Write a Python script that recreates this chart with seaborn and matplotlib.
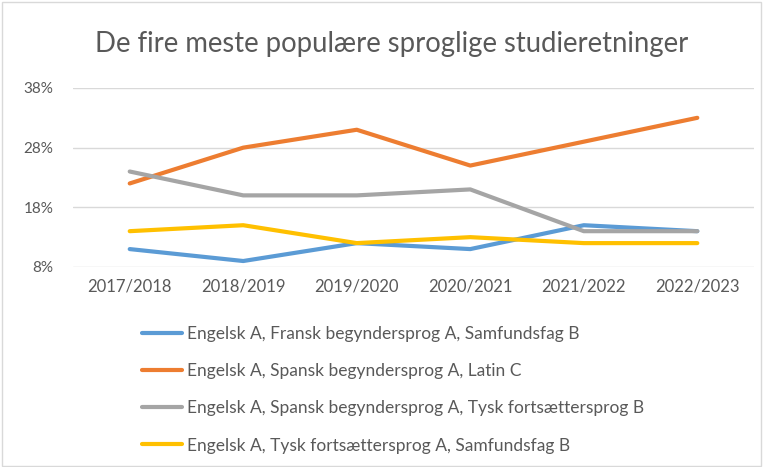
import pandas as pd
import matplotlib.pyplot as plt
import seaborn as sns
from matplotlib.patches import Rectangle
from matplotlib.lines import Line2D

# Data (percent)
years = ["2017/2018", "2018/2019", "2019/2020", "2020/2021", "2021/2022", "2022/2023"]
fransk = [11, 9, 12, 11, 15, 14]
spansk_latin = [22, 28, 31, 25, 29, 33]
spansk_tysk = [24, 20, 20, 21, 14, 14]
tysk_samf = [14, 15, 12, 13, 12, 12]

names = [
    "Engelsk A, Fransk begyndersprog A, Samfundsfag B",
    "Engelsk A, Spansk begyndersprog A, Latin C",
    "Engelsk A, Spansk begyndersprog A, Tysk fortsættersprog B",
    "Engelsk A, Tysk fortsættersprog A, Samfundsfag B",
]
colors = ["#5B9BD5", "#ED7D31", "#A5A5A5", "#FFC000"]

rows = []
for name, vals in zip(names, [fransk, spansk_latin, spansk_tysk, tysk_samf]):
    for y, v in zip(years, vals):
        rows.append({"year": y, "share": v, "retning": name})
df = pd.DataFrame(rows)

sns.set_theme(style="white")
plt.rcParams["font.family"] = ["Lato", "DejaVu Sans"]

fig = plt.figure(figsize=(7.64, 4.67), dpi=100)
ax = fig.add_axes([0.0955, 0.4283, 0.8915, 0.3833])

sns.lineplot(data=df, x="year", y="share", hue="retning", hue_order=names,
             palette=colors, linewidth=3, sort=False, ax=ax, legend=False)

ax.set_ylim(8, 38)
ax.set_yticks([8, 18, 28, 38])
ax.set_yticklabels([f"{t}%" for t in [8, 18, 28, 38]])
ax.set_xlim(-0.5, len(years) - 0.5)
ax.grid(axis="y", color="#D9D9D9", linewidth=1)
ax.set_axisbelow(True)
for s in ax.spines.values():
    s.set_visible(False)
ax.set_xlabel("")
ax.set_ylabel("")
ax.tick_params(axis="x", length=0, labelsize=12, colors="#595959", pad=8)
ax.tick_params(axis="y", length=0, labelsize=11, colors="#595959", pad=14)

fig.text(0.513, 0.905, "De fire meste populære sproglige studieretninger",
         ha="center", va="center", fontsize=19.8, color="#595959")

handles = [Line2D([], [], color=c, linewidth=3) for c in colors]
fig.legend(handles, names, loc="upper left", bbox_to_anchor=(0.186, 0.302),
           frameon=False, fontsize=12.5, handlelength=2.3, handletextpad=0.3,
           labelspacing=1.22, borderaxespad=0, borderpad=0,
           labelcolor="#595959")

fig.patches.append(Rectangle((0.003, 0.003), 0.993, 0.993, transform=fig.transFigure,
                             fill=False, edgecolor="#D9D9D9", linewidth=1))

fig.savefig("out.png", dpi=100)
